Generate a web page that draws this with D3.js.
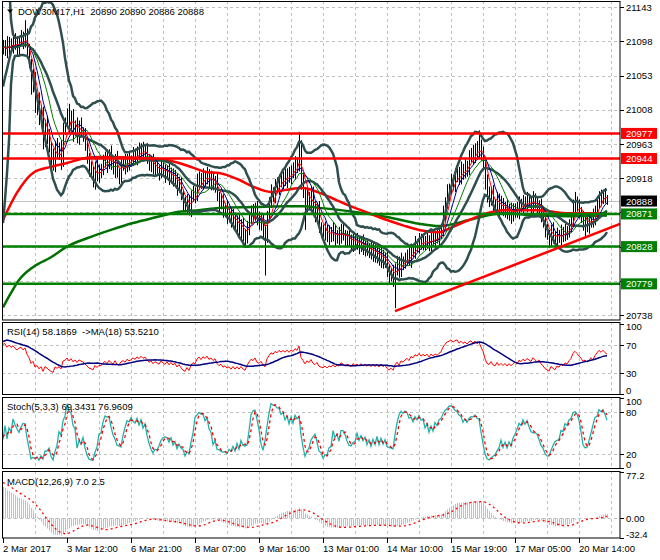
<!DOCTYPE html>
<html>
<head>
<meta charset="utf-8">
<script src="https://cdn.jsdelivr.net/npm/d3@7"></script>
<style>
body { margin: 0; background: #fff; }
svg { display: block; }
text { font-family: "Liberation Sans", Arial, sans-serif; font-size: 9.5px; fill: #000; white-space: pre; }
</style>
</head>
<body>
<svg id="chart" width="660" height="560"></svg>
<script>
// DOW30M17 H1 chart with MAs, Bollinger, RSI, Stoch, MACD

// closes before the visible window (needed for the indicators)
const histCloses = [20862,20868,20856,20864,20872,20859,20866,20874,20862,20869,20856,20864,20870,20860,20866,20864,20872,20858,20865,20869,20863,
    21000,21060,
    21085,21092,21080,21098,21090,21088,21100,21094,21082,21096,21090,21086,21092];

const closes = [
    21088,21095,21082,21098,21090,21102,21093,21087,21099,21105,
    21096,21108,21085,21070,21040,21050,21012,21020,20995,21005,
    20965,20990,20975,20960,20945,20935,20962,20950,20958,20940,
    20985,20990,21005,20985,21000,20978,20990,20972,20988,20980,
    20975,20960,20945,20930,20925,20915,20935,20920,20930,20928,
    20940,20948,20935,20950,20938,20930,20945,20925,20920,20935,
    20940,20932,20945,20938,20942,20950,20944,20955,20948,20958,
    20950,20955,20945,20935,20940,20928,20935,20930,20925,20935,
    20928,20922,20930,20918,20925,20915,20920,20905,20912,20898,
    20885,20880,20890,20875,20892,20900,20895,20912,20920,20910,
    20922,20915,20925,20912,20918,20908,20915,20895,20885,20890,
    20875,20880,20868,20872,20860,20868,20855,20862,20850,20858,
    20845,20838,20852,20865,20875,20870,20880,20862,20858,20865,
    20848,20840,20870,20885,20900,20895,20910,20905,20918,20912,
    20920,20915,20925,20918,20930,20925,20940,20935,20960,20915,
    20900,20880,20895,20885,20900,20878,20870,20880,20855,20850,
    20845,20852,20840,20848,20842,20850,20838,20845,20840,20852,
    20845,20835,20842,20838,20830,20840,20832,20836,20828,20835,
    20825,20830,20822,20828,20818,20825,20815,20822,20810,20818,
    20808,20812,20798,20790,20795,20785,20800,20808,20795,20810,
    20805,20812,20818,20810,20825,20820,20832,20828,20838,20830,
    20836,20832,20838,20830,20840,20835,20842,20838,20845,20850,
    20870,20885,20900,20905,20915,20910,20920,20925,20918,20930,
    20925,20935,20930,20945,20950,20945,20958,20952,20962,20950,
    20940,20915,20895,20890,20900,20885,20880,20892,20878,20885,
    20875,20882,20870,20878,20868,20875,20880,20872,20885,20880,
    20888,20882,20890,20885,20880,20892,20885,20878,20884,20870,
    20862,20850,20845,20838,20850,20842,20835,20845,20840,20848,
    20842,20850,20846,20855,20862,20880,20888,20882,20875,20868,
    20858,20862,20855,20860,20868,20862,20875,20885,20895,20890,
    20898,20892,20888
];

// wick above max(open, close) and below min(open, close)
const upWick = [
    8,5,10,6,4,9,7,12,5,8, 6,18,7,10,5,12,8,6,11,9, 7,5,10,8,6,12,5,9,7,10, 6,8,5,11,7,9,4,8,6,10,
    5,9,7,6,10,8,5,12,6,7, 9,5,8,6,11,7,5,9,6,8, 7,10,5,8,6,9,7,5,10,6, 8,6,9,5,7,10,6,8,5,9,
    6,8,5,10,7,6,9,5,8,7, 5,9,7,6,10,8,6,12,7,5, 9,6,8,5,10,7,6,9,5,8, 7,5,9,6,8,10,5,7,9,6,
    8,6,10,5,7,9,6,8,12,7, 6,9,5,8,10,6,7,9,5,8, 7,10,6,8,5,9,7,6,19,8, 10,6,9,5,8,7,10,6,8,5,
    7,9,5,8,6,10,7,5,9,6, 8,5,7,9,6,8,5,10,6,7, 9,6,8,5,7,10,6,8,5,9, 6,8,10,7,5,9,6,8,7,10,
    5,8,6,9,7,5,10,6,8,7, 9,6,8,5,7,10,6,8,9,6, 12,8,10,6,9,7,11,6,8,10, 7,9,6,10,8,12,6,9,19,7,
    10,6,8,12,7,9,5,8,6,10, 7,5,9,6,8,10,5,7,9,6, 8,6,10,5,7,9,6,8,5,7, 9,6,8,5,7,10,6,8,5,9,
    6,8,5,9,7,10,12,6,8,5, 7,9,6,8,5,10,7,9,6,8, 5,7,4
];
const downWick = [
    7,9,6,10,5,8,6,7,9,5, 8,6,10,7,12,9,8,11,7,10, 9,6,12,8,10,7,9,6,8,11, 7,10,6,8,9,12,5,8,10,7,
    9,6,8,10,7,9,12,6,8,10, 6,8,10,5,9,7,12,6,10,8, 7,9,6,10,5,8,7,9,6,8, 10,6,8,7,9,5,8,6,10,7,
    8,10,6,9,7,8,5,10,6,9, 10,7,9,6,8,5,10,7,9,6, 7,9,5,8,10,6,9,7,12,8, 9,6,10,8,7,9,6,10,8,12,
    10,8,6,9,7,10,8,6,8,9, 8,50,7,9,6,8,10,7,9,6, 9,7,10,6,8,7,9,10,8,12, 8,30,7,9,12,8,10,7,9,10,
    7,9,6,10,8,7,9,6,10,8, 9,6,8,10,7,9,6,8,10,7, 8,10,6,9,7,10,8,9,7,10, 9,8,10,12,8,10,38,10,8,7,
    8,6,9,7,10,6,8,7,9,6, 7,9,6,8,10,7,9,6,8,7, 8,10,7,12,9,8,10,7,9,8, 9,7,10,8,6,9,7,10,8,9,
    10,12,9,10,8,12,7,9,10,8, 7,9,6,8,10,7,9,6,8,7, 8,7,9,6,10,8,7,9,6,10, 9,10,8,12,9,10,8,9,7,10,
    8,7,9,6,8,7,9,8,10,9, 9,18,8,10,7,9,6,8,7,9, 6,7,5
];

// long moving averages (bar index, price)
const ma100Bars = [0,7,15,24,32,42,48,68,82,88,95,102,108,118,125,134,142,150,158,167,175,183,192,200,208,218,225,233,242,250,267,283,302];
const ma100Vals = [20863,20899,20925,20933,20938,20945,20946,20945,20942,20938,20932,20926,20925,20916,20907,20900,20903,20905,20899,20889,20880,20872,20863,20856,20850,20847,20854,20863,20872,20876,20876,20872,20872];
const ma200Bars = [0,4,8,15,24,32,42,54,65,77,88,98,108,125,142,150,158,175,192,208,218,233,242,250,267,283,302];
const ma200Vals = [20748,20767,20784,20801,20814,20828,20839,20850,20859,20867,20874,20876,20879,20880,20881,20881,20879,20874,20867,20858,20855,20863,20869,20872,20869,20868,20869];

const priceGrid = [21143,21098,21053,21008,20963,20918,20873,20828,20783,20738];
const redLevels = [20977, 20944];
const greenLevels = [20871, 20828, 20779];
const bidPrice = 20888;
const trendBars = [196, 308.5];
const trendPrices = [20743, 20858];

const timeLabels = ["2 Mar 2017","3 Mar 12:00","6 Mar 21:00","8 Mar 07:00","9 Mar 16:00",
    "13 Mar 01:00","14 Mar 10:00","15 Mar 19:00","17 Mar 05:00","20 Mar 14:00"];
const rsiTicks = [100, 70, 30, 0];
const rsiGrid = [70, 30];
const stochTicks = [100, 80, 20, 0];
const stochGrid = [80, 20];
const macdTicks = [77.2, 0, -32.4];

const title = "DOW30M17,H1  20890 20890 20886 20888";
const rsiTitle = "RSI(14) 58.1869  ->MA(18) 53.5210";
const stochTitle = "Stoch(5,3,3) 69.3431 76.9609";
const macdTitle = "MACD(12,26,9) 7.0 2.5";

// ---- indicators ----
const all = histCloses.concat(closes);
const off = histCloses.length;
const allOpen = all.map((c, i) => i ? all[i - 1] : c);
const allHigh = all.map((c, i) => Math.max(c, allOpen[i]) + (i >= off ? upWick[i - off] : 0));
const allLow = all.map((c, i) => Math.min(c, allOpen[i]) - (i >= off ? downWick[i - off] : 0));

function sma(arr, p) {
    return arr.map((v, i) => {
        if (i < p - 1) return null;
        const w = arr.slice(i - p + 1, i + 1);
        if (w.some(d => d == null)) return null;
        return d3.mean(w);
    });
}
function ema(arr, p) {
    const k = 2 / (p + 1);
    let e = arr[0];
    return arr.map((v, i) => i ? (e = e + k * (v - e)) : e);
}
function bands(arr, p, dev) {
    const mid = sma(arr, p);
    const up = [], lo = [];
    arr.forEach((v, i) => {
        if (mid[i] == null) { up.push(null); lo.push(null); return; }
        const w = arr.slice(i - p + 1, i + 1);
        const s = Math.sqrt(d3.mean(w, d => (d - mid[i]) ** 2));
        up.push(mid[i] + dev * s);
        lo.push(mid[i] - dev * s);
    });
    return { mid, up, lo };
}
function rsiCalc(arr, p) {
    const out = arr.map(() => null);
    let ag = 0, al = 0;
    for (let i = 1; i < arr.length; i++) {
        const ch = arr[i] - arr[i - 1];
        const g = Math.max(ch, 0), l = Math.max(-ch, 0);
        if (i <= p) { ag += g / p; al += l / p; }
        else { ag = (ag * (p - 1) + g) / p; al = (al * (p - 1) + l) / p; }
        if (i >= p) out[i] = al === 0 ? 100 : 100 - 100 / (1 + ag / al);
    }
    return out;
}

const ma5 = sma(all, 5), ma8 = sma(all, 8), ma13 = sma(all, 13);
const bb = bands(all, 20, 2);
const rsi = rsiCalc(all, 14);
const rsiMa = sma(rsi, 18);

const stochK = all.map((c, i) => {
    if (i < 6) return null;
    let num = 0, den = 0;
    for (let j = i - 2; j <= i; j++) {
        const ll = d3.min(allLow.slice(j - 4, j + 1));
        const hh = d3.max(allHigh.slice(j - 4, j + 1));
        num += all[j] - ll;
        den += hh - ll;
    }
    return den ? num / den * 100 : 50;
});
const stochD = sma(stochK, 3);

const ema12 = ema(all, 12), ema26 = ema(all, 26);
const macdMain = all.map((v, i) => ema12[i] - ema26[i]);
const macdSignal = sma(macdMain, 9);

const vis = arr => arr.slice(off);

// ---- layout ----
const svg = d3.select("#chart");
const plotL = 2, plotR = 620;
const panels = {
    main: { top: 1, bottom: 320 },
    rsi: { top: 322, bottom: 394.5 },
    stoch: { top: 397, bottom: 468.5 },
    macd: { top: 471, bottom: 538 }
};

const x = d3.scaleLinear().domain([0, closes.length - 1]).range([3, 607]);
const y = d3.scaleLinear().domain([priceGrid[priceGrid.length - 1], priceGrid[0]]).range([315, 7.3]);
const rsiY = d3.scaleLinear().domain([0, 100]).range([394, 324]);
const stochY = d3.scaleLinear().domain([0, 100]).range([468.3, 398.3]);
const macdY = d3.scaleLinear().domain([macdTicks[2], macdTicks[0]]).range([538, 471.5]);

const defs = svg.append("defs");
Object.entries(panels).forEach(([k, p]) => {
    defs.append("clipPath").attr("id", "clip-" + k)
        .append("rect").attr("x", plotL).attr("y", p.top)
        .attr("width", plotR - plotL).attr("height", p.bottom - p.top);
});

const gridX = d3.range(16, 310, 16).map(b => Math.round(x(b)) + 0.5);

function panelGroup(key) {
    return svg.append("g").attr("clip-path", `url(#clip-${key})`);
}
function drawVGrid(g, p) {
    g.selectAll(".vgrid").data(gridX).join("line")
        .attr("x1", d => d).attr("x2", d => d)
        .attr("y1", p.top).attr("y2", p.bottom)
        .attr("stroke", "#c0c0c0").attr("stroke-dasharray", "3,3");
}
function drawHGrid(g, vals, scale) {
    g.selectAll(".hgrid").data(vals).join("line")
        .attr("x1", plotL).attr("x2", plotR)
        .attr("y1", d => Math.round(scale(d)) + 0.5).attr("y2", d => Math.round(scale(d)) + 0.5)
        .attr("stroke", "#c0c0c0").attr("stroke-dasharray", "3,3");
}
function lineOf(scale) {
    return d3.line().defined(d => d != null).x((d, i) => x(i)).y(d => scale(d));
}
function drawAxisLabels(vals, scale, p, fmt, hidden = []) {
    vals.forEach(v => {
        const yy = scale(v);
        svg.append("line").attr("x1", plotR).attr("x2", plotR + 4)
            .attr("y1", Math.round(yy) + 0.5).attr("y2", Math.round(yy) + 0.5).attr("stroke", "#000");
        // labels that sit under a coloured price box are not shown
        if (hidden.some(h => Math.abs(scale(h) - yy) < 9)) return;
        const ty = Math.max(p.top + 4.5, Math.min(p.bottom - 4, yy));
        svg.append("text").attr("x", 626).attr("y", ty + 3.5).text(fmt(v));
    });
}

// ---- main panel ----
const gMain = panelGroup("main");
drawVGrid(gMain, panels.main);
drawHGrid(gMain, priceGrid, y);

gMain.append("line")
    .attr("x1", plotL).attr("x2", plotR)
    .attr("y1", Math.round(y(bidPrice)) + 0.5).attr("y2", Math.round(y(bidPrice)) + 0.5)
    .attr("stroke", "#c0c0c0");

// bars
const visHigh = vis(allHigh), visLow = vis(allLow);
gMain.selectAll(".bar").data(closes).join("line")
    .attr("x1", (d, i) => Math.round(x(i)) + 0.5).attr("x2", (d, i) => Math.round(x(i)) + 0.5)
    .attr("y1", (d, i) => y(visHigh[i])).attr("y2", (d, i) => y(visLow[i]))
    .attr("stroke", "#000").attr("stroke-width", 1);

// long MAs
const knotLine = d3.line().curve(d3.curveMonotoneX).x(d => x(d[0])).y(d => y(d[1]));
gMain.append("path").attr("d", knotLine(d3.zip(ma200Bars, ma200Vals)))
    .attr("fill", "none").attr("stroke", "#007000").attr("stroke-width", 2.5);
gMain.append("path").attr("d", knotLine(d3.zip(ma100Bars, ma100Vals)))
    .attr("fill", "none").attr("stroke", "#ff0000").attr("stroke-width", 2.5);

// bollinger bands
[bb.up, bb.mid, bb.lo].forEach(s => {
    gMain.append("path").attr("d", lineOf(y)(vis(s)))
        .attr("fill", "none").attr("stroke", "#2f4f4f").attr("stroke-width", 2.5);
});

// fast MAs
[[ma13, "#008000"], [ma8, "#00008b"], [ma5, "#ff0000"]].forEach(([s, c]) => {
    gMain.append("path").attr("d", lineOf(y)(vis(s)))
        .attr("fill", "none").attr("stroke", c).attr("stroke-width", 1);
});

// support / resistance levels
redLevels.forEach(v => {
    gMain.append("line").attr("x1", plotL).attr("x2", plotR)
        .attr("y1", y(v)).attr("y2", y(v)).attr("stroke", "#ff0000").attr("stroke-width", 2.5);
});
greenLevels.forEach(v => {
    gMain.append("line").attr("x1", plotL).attr("x2", plotR)
        .attr("y1", y(v)).attr("y2", y(v)).attr("stroke", "#008000").attr("stroke-width", 2.5);
});
gMain.append("line")
    .attr("x1", x(trendBars[0])).attr("y1", y(trendPrices[0]))
    .attr("x2", x(trendBars[1])).attr("y2", y(trendPrices[1]))
    .attr("stroke", "#ff0000").attr("stroke-width", 2.5);

// title
svg.append("path").attr("d", "M7,9.5 L13,9.5 L10,13 Z").attr("fill", "#000");
svg.append("text").attr("x", 18).attr("y", 15).text(title);

// ---- RSI ----
const gRsi = panelGroup("rsi");
drawVGrid(gRsi, panels.rsi);
drawHGrid(gRsi, rsiGrid, rsiY);
gRsi.append("path").attr("d", lineOf(rsiY)(vis(rsi)))
    .attr("fill", "none").attr("stroke", "#ff0000").attr("stroke-width", 1);
gRsi.append("path").attr("d", lineOf(rsiY)(vis(rsiMa)))
    .attr("fill", "none").attr("stroke", "#000080").attr("stroke-width", 1.5);
svg.append("text").attr("x", 7).attr("y", 335).text(rsiTitle);

// ---- Stochastic ----
const gSto = panelGroup("stoch");
drawVGrid(gSto, panels.stoch);
drawHGrid(gSto, stochGrid, stochY);
gSto.append("path").attr("d", lineOf(stochY)(vis(stochK)))
    .attr("fill", "none").attr("stroke", "#20b2aa").attr("stroke-width", 1.3);
gSto.append("path").attr("d", lineOf(stochY)(vis(stochD)))
    .attr("fill", "none").attr("stroke", "#ff0000").attr("stroke-width", 1.3)
    .attr("stroke-dasharray", "3,3");
svg.append("text").attr("x", 7).attr("y", 410).text(stochTitle);

// ---- MACD ----
const gMacd = panelGroup("macd");
drawVGrid(gMacd, panels.macd);
drawHGrid(gMacd, [0], macdY);
gMacd.selectAll(".hist").data(vis(macdMain)).join("line")
    .attr("x1", (d, i) => Math.round(x(i)) + 0.5).attr("x2", (d, i) => Math.round(x(i)) + 0.5)
    .attr("y1", macdY(0)).attr("y2", d => macdY(d))
    .attr("stroke", "#c0c0c0").attr("stroke-width", 1);
gMacd.append("path").attr("d", lineOf(macdY)(vis(macdSignal)))
    .attr("fill", "none").attr("stroke", "#ff0000").attr("stroke-width", 1.3)
    .attr("stroke-dasharray", "2,3");
svg.append("text").attr("x", 7).attr("y", 485).text(macdTitle);

// ---- panel borders ----
Object.values(panels).forEach(p => {
    svg.append("rect").attr("x", plotL + 0.5).attr("y", p.top + 0.5)
        .attr("width", plotR - plotL - 0.5).attr("height", p.bottom - p.top - 0.5)
        .attr("fill", "none").attr("stroke", "#000");
});

// ---- right axes ----
const boxed = redLevels.concat(greenLevels, [bidPrice]);
drawAxisLabels(priceGrid, y, panels.main, d => d, boxed);
drawAxisLabels(rsiTicks, rsiY, panels.rsi, d => d);
drawAxisLabels(stochTicks, stochY, panels.stoch, d => d);
drawAxisLabels(macdTicks, macdY, panels.macd, d => d.toFixed(d === 0 ? 2 : 1));

function priceBox(v, color) {
    const yy = y(v);
    svg.append("rect").attr("x", plotR + 1).attr("y", yy - 5.5).attr("width", 36).attr("height", 11)
        .attr("fill", color);
    svg.append("text").attr("x", 626).attr("y", yy + 3.5).style("fill", "#fff").text(v);
}
redLevels.forEach(v => priceBox(v, "#ff0000"));
greenLevels.forEach(v => priceBox(v, "#008000"));
priceBox(bidPrice, "#000");

// ---- time axis ----
timeLabels.forEach((t, k) => {
    const xx = Math.round(x(k * 32)) + 0.5;
    svg.append("line").attr("x1", xx).attr("x2", xx).attr("y1", panels.macd.bottom)
        .attr("y2", panels.macd.bottom + 5).attr("stroke", "#000");
    svg.append("text").attr("x", xx - 0.5).attr("y", 552).text(t);
});
</script>
</body>
</html>
